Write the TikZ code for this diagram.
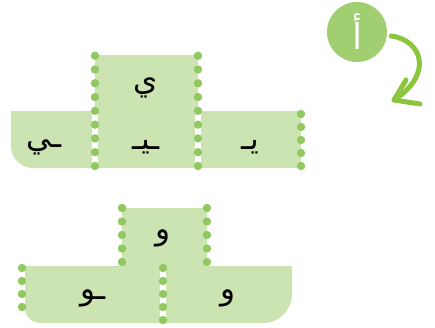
\documentclass[tikz,border=0pt]{standalone}
\usepackage{fontspec}
\TeXXeTstate=1
\newfontfamily\arabicfont[Script=Arabic]{DejaVu Sans}
\definecolor{boxfill}{HTML}{CCE3B2}
\definecolor{dotgreen}{HTML}{92C862}
\definecolor{circgreen}{HTML}{A2CE72}
\definecolor{arrowgreen}{HTML}{8CC63F}
\tikzset{
  letter/.style={font=\arabicfont\fontsize{31}{33}\selectfont, text=black, inner sep=0pt},
  strip/.style={white, line width=6.5pt},
  boxshape/.style={fill=boxfill, draw=none}
}
\newcommand{\dotcol}[4]{% x, y0, y1, n
  \foreach \i in {0,...,#4}{
    \fill[dotgreen] ({#1},{#2+(#3-#2)*\i/#4}) circle[radius=4.2pt];
  }
}
\begin{document}
\begin{tikzpicture}[x=1pt,y=-1pt]
\useasboundingbox (0,0) rectangle (435,327);
% ---------- top figure ----------
\fill[boxfill] (95,55) rectangle (198,168);
\fill[boxfill] (93,111) -- (93,168) -- (33,168) arc[start angle=90,end angle=180,radius=22] -- (11,111) -- cycle;
\fill[boxfill] (198,111) rectangle (301,168);
\draw[strip] (95,111) -- (95,168);
\draw[strip] (198,111) -- (198,168);
\dotcol{95}{55.7}{166}{8}
\dotcol{198}{55.7}{166}{8}
\dotcol{301}{114}{166}{4}
\node[letter] (ya) at (146,88) {\beginR ي\endR};
\node[letter] (yaend) at (44,147) {\beginR ـي\endR};
\node[letter] (yamid) at (146,147) {\beginR ـيـ\endR};
\node[letter] (yabeg) at (250,147) {\beginR يـ\endR};
% ---------- bottom figure ----------
\fill[boxfill] (122,208) rectangle (207,266);
\fill[boxfill] (25,266) -- (292,266) -- (292,294) arc[start angle=0,end angle=90,radius=29] -- (40,323) arc[start angle=90,end angle=180,radius=15] -- cycle;
\draw[strip] (163,266) -- (163,323);
\dotcol{122}{208}{262}{4}
\dotcol{207}{208}{262}{4}
\dotcol{22}{268}{307}{3}
\dotcol{163}{268}{320}{4}
\node[letter] (waw) at (163,238) {\beginR و\endR};
\node[letter] (wawend) at (93,298) {\beginR ـو\endR};
\node[letter] (wawiso) at (228,298) {\beginR و\endR};
% ---------- badge and arrow ----------
\node[circle, fill=circgreen, minimum size=60pt, inner sep=0pt, text=white,
      font=\arabicfont\fontsize{36}{38}\selectfont] (badge) at (357,32) {\beginR أ\endR};
\coordinate (tip) at (394,100);
\draw[arrowgreen, line width=5pt, line cap=round] (badge.east) ++(4,4) .. controls (422,40) and (434,74) .. (tip);
\draw[arrowgreen, line width=5pt, line cap=round, line join=round] (406,80) -- (tip) -- (420,104);
\end{tikzpicture}
\end{document}
